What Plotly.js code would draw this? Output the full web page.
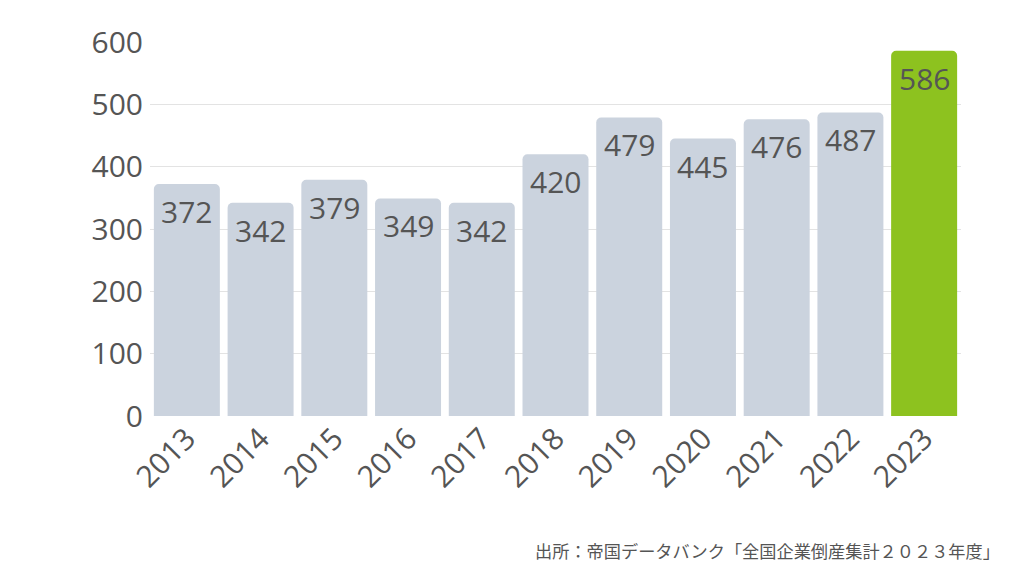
<!DOCTYPE html>
<html><head><meta charset="utf-8">
<script src="https://cdn.plot.ly/plotly-3.0.1.min.js"></script>
<style>html,body{margin:0;padding:0;background:#fff}#chart{width:1024px;height:576px}</style>
</head><body><div id="chart"></div>
<script>
const years = ['2013','2014','2015','2016','2017','2018','2019','2020','2021','2022','2023'];
const counts = [372,342,379,349,342,420,479,445,476,487,586];
const yTicks = [0,100,200,300,400,500,600];
const sourceText = '出所：帝国データバンク「全国企業倒産集計２０２３年度」';

const greyBar = '#cbd3de';
const greenBar = '#8dc21f';
const textColor = '#555555';
const fontFam = '"Open Sans", "Noto Sans", sans-serif';

const colors = years.map((y,i)=> i===years.length-1 ? greenBar : greyBar);

const trace = {
  type:'bar', x: years, y: counts,
  marker:{color: colors, line:{width:0}},
  hoverinfo:'skip'
};

const annotations = years.map((y,i)=>({
  x: i, y: counts[i], xref:'x', yref:'y',
  text: String(counts[i]), showarrow:false,
  yanchor:'top', yshift:-5,
  font:{family:fontFam, size:30, color:textColor}
}));
annotations.push({
  xref:'paper', yref:'paper', x:1.051, y:-0.36, xanchor:'right', yanchor:'middle',
  text: sourceText, showarrow:false,
  font:{family:'"Noto Sans CJK JP", sans-serif', size:17.2, color:textColor}
});

const layout = {
  width:1024, height:576,
  margin:{l:150, r:63, t:42, b:160},
  paper_bgcolor:'#fff', plot_bgcolor:'#fff',
  bargap:0.105,
  barcornerradius:5,
  showlegend:false,
  xaxis:{
    type:'category', range:[-0.5, years.length-0.5], tickangle:-45, showgrid:false, zeroline:false, showline:false,
    ticks:'', ticklabelstandoff:-2, tickfont:{family:fontFam, size:30, color:textColor}
  },
  yaxis:{
    range:[0,600], tickvals:yTicks, ticktext:yTicks.map(String),
    showgrid:true, gridcolor:'#e3e3e3', gridwidth:1, zeroline:false, showline:false,
    ticks:'', ticklabelstandoff:6,
    tickfont:{family:fontFam, size:30, color:textColor}
  },
  annotations: annotations
};

Plotly.newPlot('chart',[trace],layout,{displayModeBar:false, staticPlot:true});
</script>
</body></html>
